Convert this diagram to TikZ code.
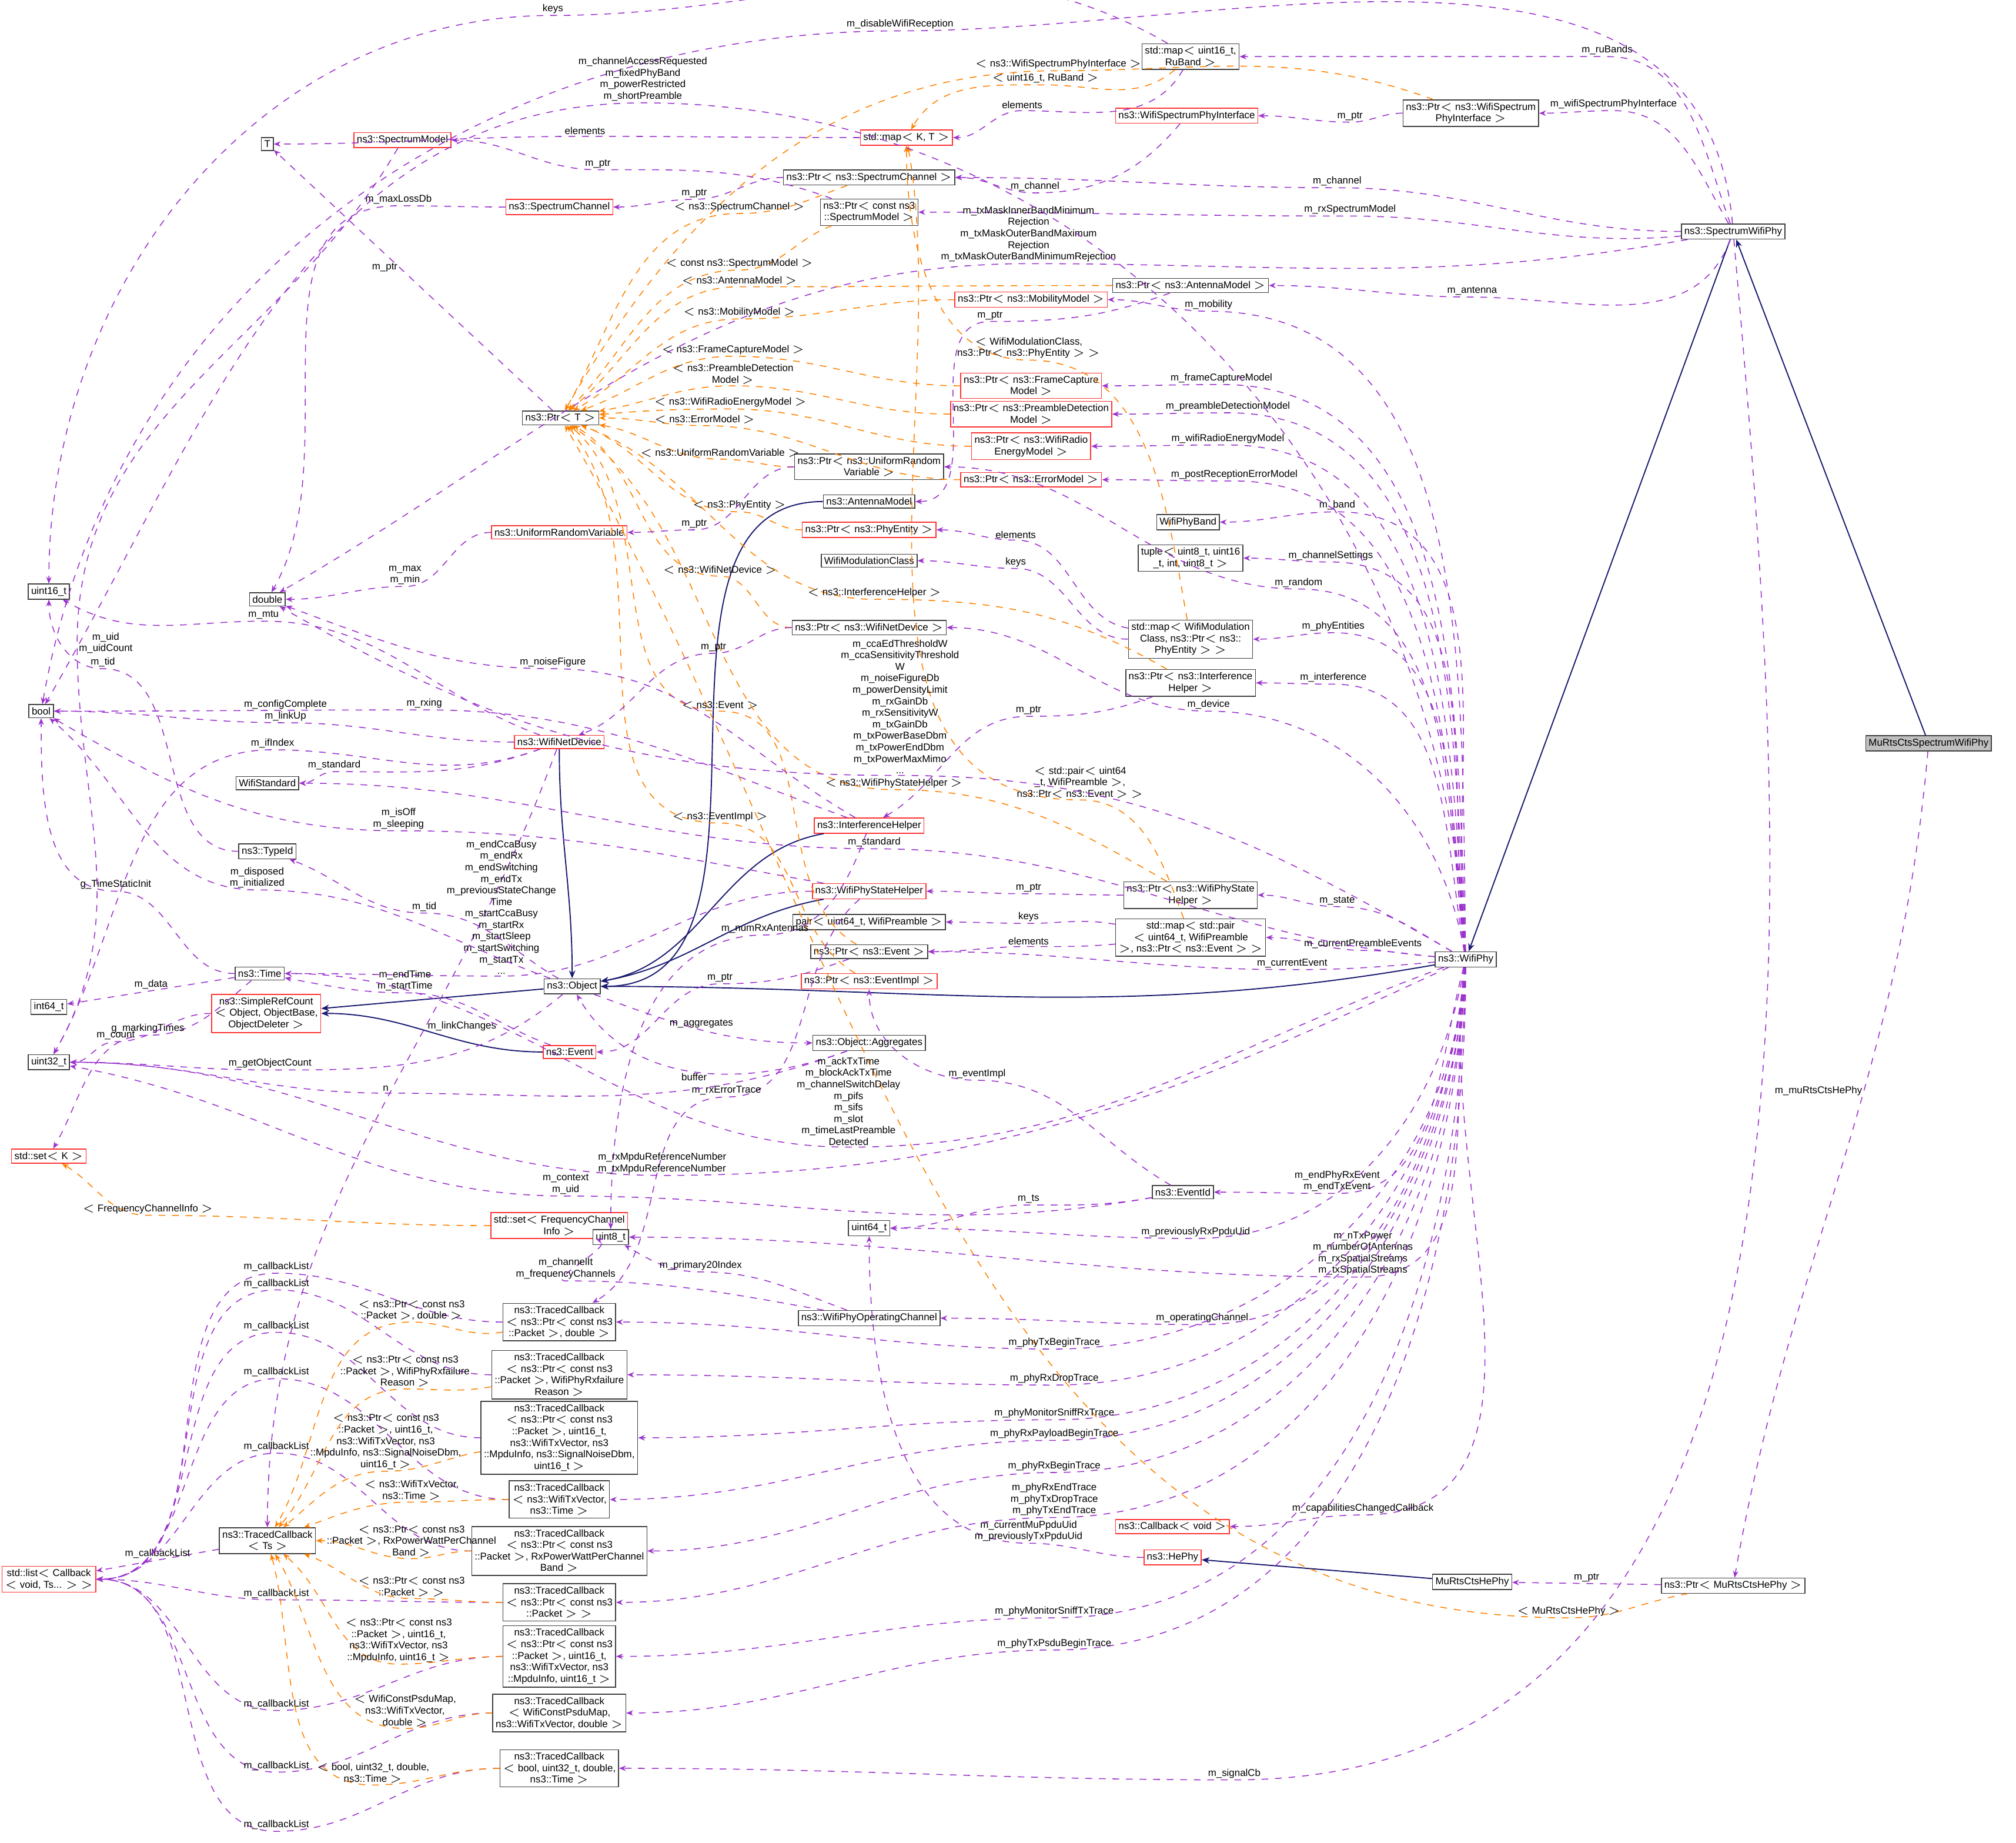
\documentclass[tikz,border=0pt]{standalone}
\usepackage{fontspec}
\setmainfont{Liberation Sans}
\usetikzlibrary{arrows.meta,positioning,calc}

% edge through a label point: style, from, out, x, y, label, in, to
\newcommand{\edgevia}[8]{\draw[#1] (#2) to[out=#3,in=0] (#4,#5) node[lbl,above]{#6} to[out=180,in=#7] (#8);}

\begin{document}
\begin{tikzpicture}[x=0.02cm,y=-0.02cm,
  font=\fontsize{4.4}{5.1}\selectfont,
  box/.style={draw=black!75,fill=white,align=center,inner sep=1.3pt,line width=0.4pt},
  redbox/.style={box,draw=red!80},
  greybox/.style={box,fill=black!25},
  mem/.style={draw={rgb,255:red,155;green,50;blue,205},dashed,line width=0.4pt,-{Stealth[length=3pt,width=2.4pt]}},
  tpl/.style={draw=orange,dashed,line width=0.4pt,-{Stealth[length=3pt,width=2.4pt]}},
  inh/.style={draw={rgb,255:red,25;green,25;blue,112},line width=0.5pt,-{Stealth[length=3.5pt,width=2.8pt]}},
  lbl/.style={align=center,inner sep=0.6pt}]
\useasboundingbox (0,0) rectangle (1568,1433);

% left column
\node[box] (u16) at (38,460) {uint16\_t};
\node[box] (dbl) at (208,466) {double};
\node[box] (bool) at (32,553) {bool};
\node[box] (T) at (208,112) {T};
\node[box] (i64) at (38,783) {int64\_t};
\node[box] (u32) at (38,826) {uint32\_t};
\node[redbox] (setK) at (38,899) {std::set$<$ K $>$};
\node[redbox] (list) at (38,1228) {std::list$<$ Callback\\$<$ void, Ts... $>$ $>$};
\node[box] (wstd) at (208,609) {WifiStandard};
\node[box] (tid) at (208,662) {ns3::TypeId};
\node[box] (time) at (202,757) {ns3::Time};
\node[redbox] (src) at (207,788) {ns3::SimpleRefCount\\$<$ Object, ObjectBase,\\ObjectDeleter $>$};
\node[box] (tcts) at (208,1198) {ns3::TracedCallback\\$<$ Ts $>$};

% second column
\node[redbox] (smod) at (313,109) {ns3::SpectrumModel};
\node[redbox] (schan) at (435,161) {ns3::SpectrumChannel};
\node[box] (ptrT) at (436,325) {ns3::Ptr$<$ T $>$};
\node[redbox] (urv) at (435,414) {ns3::UniformRandomVariable};
\node[redbox] (wnd) at (435,577) {ns3::WifiNetDevice};
\node[box] (obj) at (445,767) {ns3::Object};
\node[redbox] (evt) at (443,818) {ns3::Event};
\node[redbox] (setfc) at (435,953) {std::set$<$ FrequencyChannel\\Info $>$};
\node[box] (u8) at (475,962) {uint8\_t};
\node[box] (tc1) at (435,1028) {ns3::TracedCallback\\$<$ ns3::Ptr$<$ const ns3\\::Packet $>$, double $>$};
\node[box] (tc2) at (435,1069) {ns3::TracedCallback\\$<$ ns3::Ptr$<$ const ns3\\::Packet $>$, WifiPhyRxfailure\\Reason $>$};
\node[box] (tc3) at (435,1118) {ns3::TracedCallback\\$<$ ns3::Ptr$<$ const ns3\\::Packet $>$, uint16\_t,\\ns3::WifiTxVector, ns3\\::MpduInfo, ns3::SignalNoiseDbm,\\uint16\_t $>$};
\node[box] (tc4) at (435,1166) {ns3::TracedCallback\\$<$ ns3::WifiTxVector,\\ns3::Time $>$};
\node[box] (tc5) at (435,1206) {ns3::TracedCallback\\$<$ ns3::Ptr$<$ const ns3\\::Packet $>$, RxPowerWattPerChannel\\Band $>$};
\node[box] (tc6) at (435,1246) {ns3::TracedCallback\\$<$ ns3::Ptr$<$ const ns3\\::Packet $>$ $>$};
\node[box] (tc7) at (435,1288) {ns3::TracedCallback\\$<$ ns3::Ptr$<$ const ns3\\::Packet $>$, uint16\_t,\\ns3::WifiTxVector, ns3\\::MpduInfo, uint16\_t $>$};
\node[box] (tc8) at (435,1332) {ns3::TracedCallback\\$<$ WifiConstPsduMap,\\ns3::WifiTxVector, double $>$};
\node[box] (tc9) at (435,1375) {ns3::TracedCallback\\$<$ bool, uint32\_t, double,\\ns3::Time $>$};

% third column
\node[redbox] (mapKT) at (705,107) {std::map$<$ K, T $>$};
\node[box] (pschan) at (676,138) {ns3::Ptr$<$ ns3::SpectrumChannel $>$};
\node[box] (psmod) at (676,165) {ns3::Ptr$<$ const ns3\\::SpectrumModel $>$};
\node[box] (purv) at (676,363) {ns3::Ptr$<$ ns3::UniformRandom\\Variable $>$};
\node[box] (ant) at (676,390) {ns3::AntennaModel};
\node[redbox] (pphy) at (676,412) {ns3::Ptr$<$ ns3::PhyEntity $>$};
\node[box] (wmc) at (676,436) {WifiModulationClass};
\node[box] (pwnd) at (676,488) {ns3::Ptr$<$ ns3::WifiNetDevice $>$};
\node[redbox] (ih) at (676,642) {ns3::InterferenceHelper};
\node[redbox] (wpsh) at (676,693) {ns3::WifiPhyStateHelper};
\node[box] (pair) at (676,717) {pair$<$ uint64\_t, WifiPreamble $>$};
\node[box] (pevt) at (676,740) {ns3::Ptr$<$ ns3::Event $>$};
\node[redbox] (pevi) at (676,763) {ns3::Ptr$<$ ns3::EventImpl $>$};
\node[box] (aggr) at (676,811) {ns3::Object::Aggregates};
\node[box] (u64) at (676,955) {uint64\_t};
\node[box] (woc) at (676,1025) {ns3::WifiPhyOperatingChannel};

% fourth column
\node[box] (mapru) at (926,44) {std::map$<$ uint16\_t,\\RuBand $>$};
\node[redbox] (wspi) at (923,90) {ns3::WifiSpectrumPhyInterface};
\node[box] (pant) at (926,222) {ns3::Ptr$<$ ns3::AntennaModel $>$};
\node[redbox] (pmob) at (802,233) {ns3::Ptr$<$ ns3::MobilityModel $>$};
\node[redbox] (pfc) at (802,300) {ns3::Ptr$<$ ns3::FrameCapture\\Model $>$};
\node[redbox] (ppd) at (802,322) {ns3::Ptr$<$ ns3::PreambleDetection\\Model $>$};
\node[redbox] (pre) at (802,347) {ns3::Ptr$<$ ns3::WifiRadio\\EnergyModel $>$};
\node[redbox] (pem) at (802,373) {ns3::Ptr$<$ ns3::ErrorModel $>$};
\node[box] (band) at (924,406) {WifiPhyBand};
\node[box] (tup) at (926,434) {tuple$<$ uint8\_t, uint16\\\_t, int, uint8\_t $>$};
\node[box] (mapwmc) at (926,497) {std::map$<$ WifiModulation\\Class, ns3::Ptr$<$ ns3::\\PhyEntity $>$ $>$};
\node[box] (pih) at (926,531) {ns3::Ptr$<$ ns3::Interference\\Helper $>$};
\node[box] (pwpsh) at (926,696) {ns3::Ptr$<$ ns3::WifiPhyState\\Helper $>$};
\node[box] (mappe) at (926,729) {std::map$<$ std::pair\\$<$ uint64\_t, WifiPreamble\\$>$, ns3::Ptr$<$ ns3::Event $>$ $>$};
\node[box] (eid) at (920,927) {ns3::EventId};
\node[redbox] (cbv) at (912,1187) {ns3::Callback$<$ void $>$};
\node[redbox] (hephy) at (912,1211) {ns3::HePhy};

% right
\node[box] (pwspi) at (1144,88) {ns3::Ptr$<$ ns3::WifiSpectrum\\PhyInterface $>$};
\node[box] (swp) at (1348,180) {ns3::SpectrumWifiPhy};
\node[box] (wp) at (1140,746) {ns3::WifiPhy};
\node[box] (murts) at (1145,1230) {MuRtsCtsHePhy};
\node[box] (pmurts) at (1348,1233) {ns3::Ptr$<$ MuRtsCtsHePhy $>$};
\node[greybox] (mrcs) at (1500,578) {MuRtsCtsSpectrumWifiPhy};

% inheritance
\draw[inh] (mrcs) -- (swp);
\draw[inh] (swp) -- (wp);
\draw[inh] (wp) to[out=190,in=0] (obj);
\draw[inh] (ant) to[out=180,in=0] (obj);
\draw[inh] (ih) to[out=190,in=10] (obj);
\draw[inh] (wpsh) to[out=190,in=10] (obj);
\draw[inh] (obj) -- (src);
\draw[inh] (evt) to[out=180,in=0] (src);
\draw[inh] (wnd) to[out=270,in=90] (obj);
\draw[inh] (murts) -- (hephy);

% SpectrumWifiPhy members
\edgevia{mem}{swp}{110}{1250}{44}{m\_ruBands}{0}{mapru}
\edgevia{mem}{swp}{120}{1255}{86}{m\_wifiSpectrumPhyInterface}{0}{pwspi}
\edgevia{mem}{swp}{180}{1040}{146}{m\_channel}{0}{pschan}
\edgevia{mem}{swp}{185}{1050}{168}{m\_rxSpectrumModel}{0}{psmod}
\edgevia{mem}{swp}{250}{1145}{231}{m\_antenna}{0}{pant}
\edgevia{mem}{swp}{190}{800}{205}{m\_txMaskInnerBandMinimum\\Rejection\\m\_txMaskOuterBandMaximum\\Rejection\\m\_txMaskOuterBandMinimumRejection}{30}{dbl}
\edgevia{mem}{swp}{95}{700}{24}{m\_disableWifiReception}{80}{bool}
\edgevia{mem}{swp}{275}{960}{1384}{m\_signalCb}{0}{tc9}
\draw[mem] (mrcs) to[out=265,in=80] node[lbl,pos=.4,left]{m\_muRtsCtsHePhy} (pmurts);
\draw[mem] (pmurts) -- node[lbl,above] {m\_ptr} (murts);
\edgevia{tpl}{pmurts}{190}{1220}{1258}{$<$ MuRtsCtsHePhy $>$}{-60}{ptrT}
\edgevia{mem}{hephy}{180}{800}{1200}{m\_currentMuPpduUid\\m\_previouslyTxPpduUid}{270}{u64}

% top part
\edgevia{mem}{mapru}{150}{430}{12}{keys}{90}{u16}
\edgevia{mem}{mapru}{240}{795}{86}{elements}{0}{mapKT}
\edgevia{tpl}{mapru}{220}{813}{66}{$<$ uint16\_t, RuBand $>$}{60}{mapKT}
\edgevia{mem}{pwspi}{180}{1050}{95}{m\_ptr}{0}{wspi}
\edgevia{tpl}{pwspi}{160}{823}{55}{$<$ ns3::WifiSpectrumPhyInterface $>$}{60}{ptrT}
\edgevia{mem}{wspi}{230}{805}{150}{m\_channel}{0}{pschan}
\edgevia{mem}{mapKT}{180}{455}{106}{elements}{0}{T}
\edgevia{mem}{pschan}{180}{540}{155}{m\_ptr}{0}{schan}
\edgevia{mem}{psmod}{160}{465}{132}{m\_ptr}{0}{smod}
\draw[mem] (ptrT) -- node[lbl,pos=.55,left] {m\_ptr} (T);
\edgevia{mem}{schan}{180}{310}{160}{m\_maxLossDb}{60}{dbl}
\draw[mem] (smod) to[out=240,in=90] (60,500) node[lbl,right]{m\_uid\\m\_uidCount} to[out=270,in=60] (u32);
\edgevia{mem}{pant}{200}{770}{250}{m\_ptr}{0}{ant}
\edgevia{tpl}{pschan}{200}{575}{166}{$<$ ns3::SpectrumChannel $>$}{60}{ptrT}
\edgevia{tpl}{psmod}{200}{575}{210}{$<$ const ns3::SpectrumModel $>$}{45}{ptrT}
\edgevia{tpl}{pant}{180}{575}{223}{$<$ ns3::AntennaModel $>$}{40}{ptrT}
\edgevia{tpl}{pmob}{180}{575}{248}{$<$ ns3::MobilityModel $>$}{30}{ptrT}
\edgevia{tpl}{pfc}{180}{570}{277}{$<$ ns3::FrameCaptureModel $>$}{20}{ptrT}
\edgevia{tpl}{ppd}{180}{570}{300}{$<$ ns3::PreambleDetection\\Model $>$}{10}{ptrT}
\edgevia{tpl}{pre}{180}{568}{318}{$<$ ns3::WifiRadioEnergyModel $>$}{5}{ptrT}
\edgevia{tpl}{pem}{180}{548}{331}{$<$ ns3::ErrorModel $>$}{0}{ptrT}
\edgevia{tpl}{purv}{180}{560}{357}{$<$ ns3::UniformRandomVariable $>$}{-10}{ptrT}
\edgevia{tpl}{pphy}{180}{575}{398}{$<$ ns3::PhyEntity $>$}{-20}{ptrT}
\edgevia{tpl}{pwnd}{180}{560}{448}{$<$ ns3::WifiNetDevice $>$}{-30}{ptrT}
\edgevia{tpl}{pih}{150}{680}{466}{$<$ ns3::InterferenceHelper $>$}{-20}{ptrT}
\edgevia{tpl}{pevt}{150}{560}{553}{$<$ ns3::Event $>$}{-40}{ptrT}
\edgevia{tpl}{pwpsh}{150}{695}{614}{$<$ ns3::WifiPhyStateHelper $>$}{-35}{ptrT}
\edgevia{tpl}{pevi}{150}{560}{640}{$<$ ns3::EventImpl $>$}{-50}{ptrT}
\edgevia{tpl}{mapwmc}{100}{800}{280}{$<$ WifiModulationClass,\\ns3::Ptr$<$ ns3::PhyEntity $>$ $>$}{270}{mapKT}
\edgevia{tpl}{mappe}{110}{840}{622}{$<$ std::pair$<$ uint64\\\_t, WifiPreamble $>$,\\ns3::Ptr$<$ ns3::Event $>$ $>$}{280}{mapKT}
\edgevia{mem}{purv}{180}{540}{412}{m\_ptr}{0}{urv}
\edgevia{mem}{urv}{180}{315}{456}{m\_max\\m\_min}{0}{dbl}
\edgevia{mem}{mapwmc}{170}{790}{420}{elements}{0}{pphy}
\edgevia{mem}{mapwmc}{180}{790}{442}{keys}{0}{wmc}
\edgevia{mem}{pwnd}{180}{555}{508}{m\_ptr}{20}{wnd}
\edgevia{mem}{pih}{200}{800}{557}{m\_ptr}{30}{ih}

% middle part
\edgevia{mem}{ih}{150}{430}{520}{m\_noiseFigure}{-20}{dbl}
\edgevia{mem}{ih}{160}{330}{552}{m\_rxing}{0}{bool}
\edgevia{mem}{ih}{250}{595}{727}{m\_numRxAntennas}{90}{u8}
\edgevia{mem}{wnd}{160}{205}{483}{m\_mtu}{-30}{u16}
\edgevia{mem}{wnd}{180}{222}{562}{m\_configComplete\\m\_linkUp}{0}{bool}
\edgevia{mem}{wnd}{200}{212}{583}{m\_ifIndex}{60}{u32}
\edgevia{mem}{wnd}{200}{260}{600}{m\_standard}{0}{wstd}
\draw[mem] (wnd) to[out=250,in=90] node[lbl,pos=.35,right] {m\_linkChanges} (tcts);
\edgevia{mem}{wpsh}{170}{310}{646}{m\_isOff\\m\_sleeping}{-30}{bool}
\edgevia{mem}{wpsh}{180}{390}{759}{m\_endCcaBusy\\m\_endRx\\m\_endSwitching\\m\_endTx\\m\_previousStateChange\\Time\\m\_startCcaBusy\\m\_startRx\\m\_startSleep\\m\_startSwitching\\m\_startTx\\...}{0}{time}
\edgevia{mem}{wpsh}{220}{565}{853}{m\_rxErrorTrace}{30}{tc1}
\edgevia{mem}{pwpsh}{180}{800}{695}{m\_ptr}{0}{wpsh}
\edgevia{mem}{mappe}{170}{800}{718}{keys}{0}{pair}
\edgevia{mem}{mappe}{185}{800}{736}{elements}{0}{pevt}
\edgevia{mem}{pevt}{200}{560}{765}{m\_ptr}{0}{evt}
\edgevia{mem}{evt}{160}{315}{772}{m\_endTime\\m\_startTime}{-10}{time}
\edgevia{mem}{obj}{160}{200}{692}{m\_disposed\\m\_initialized}{-40}{bool}
\edgevia{mem}{obj}{150}{330}{710}{m\_tid}{-20}{tid}
\draw[mem] (obj) to[out=-20,in=180] node[lbl,pos=.5,above] {m\_aggregates} (aggr);
\edgevia{mem}{obj}{220}{210}{832}{m\_getObjectCount}{0}{u32}
\edgevia{mem}{aggr}{200}{300}{850}{n}{0}{u32}
\draw[mem] (aggr) to[out=200,in=300] node[lbl,pos=.5,below] {buffer} (obj);
\draw[mem] (time) -- node[lbl,above] {m\_data} (i64);
\edgevia{mem}{time}{180}{90}{693}{g\_TimeStaticInit}{270}{bool}
\edgevia{mem}{time}{220}{115}{805}{g\_markingTimes}{60}{setK}
\edgevia{mem}{tid}{180}{80}{520}{m\_tid}{270}{u16}
\edgevia{mem}{src}{180}{90}{810}{m\_count}{0}{u32}
\edgevia{tpl}{setfc}{180}{115}{945}{$<$ FrequencyChannelInfo $>$}{-30}{setK}
\edgevia{mem}{eid}{190}{440}{930}{m\_context\\m\_uid}{-10}{u32}
\edgevia{mem}{eid}{150}{760}{840}{m\_eventImpl}{270}{pevi}
\edgevia{mem}{eid}{190}{800}{937}{m\_ts}{0}{u64}
\edgevia{mem}{woc}{160}{545}{989}{m\_primary20Index}{-30}{u8}
\edgevia{mem}{woc}{170}{440}{996}{m\_channelIt\\m\_frequencyChannels}{-20}{setfc}

% traced callbacks
\draw[mem] (tcts) -- node[lbl,above] {m\_callbackList} (list);
\foreach \tc/\ly in {tc1/990,tc2/1003,tc3/1036,tc4/1072,tc5/1130,tc6/1244,tc7/1330,tc8/1378,tc9/1424}
  {\edgevia{mem}{\tc}{180}{215}{\ly}{m\_callbackList}{0}{list}}
\edgevia{tpl}{tc1}{190}{320}{1028}{$<$ ns3::Ptr$<$ const ns3\\::Packet $>$, double $>$}{60}{tcts}
\edgevia{tpl}{tc2}{190}{315}{1080}{$<$ ns3::Ptr$<$ const ns3\\::Packet $>$, WifiPhyRxfailure\\Reason $>$}{50}{tcts}
\edgevia{tpl}{tc3}{190}{300}{1144}{$<$ ns3::Ptr$<$ const ns3\\::Packet $>$, uint16\_t,\\ns3::WifiTxVector, ns3\\::MpduInfo, ns3::SignalNoiseDbm,\\uint16\_t $>$}{40}{tcts}
\edgevia{tpl}{tc4}{180}{320}{1168}{$<$ ns3::WifiTxVector,\\ns3::Time $>$}{20}{tcts}
\edgevia{tpl}{tc5}{180}{320}{1212}{$<$ ns3::Ptr$<$ const ns3\\::Packet $>$, RxPowerWattPerChannel\\Band $>$}{0}{tcts}
\edgevia{tpl}{tc6}{180}{320}{1243}{$<$ ns3::Ptr$<$ const ns3\\::Packet $>$ $>$}{-20}{tcts}
\edgevia{tpl}{tc7}{180}{310}{1294}{$<$ ns3::Ptr$<$ const ns3\\::Packet $>$, uint16\_t,\\ns3::WifiTxVector, ns3\\::MpduInfo, uint16\_t $>$}{-40}{tcts}
\edgevia{tpl}{tc8}{180}{315}{1344}{$<$ WifiConstPsduMap,\\ns3::WifiTxVector,\\double $>$}{-60}{tcts}
\edgevia{tpl}{tc9}{180}{290}{1388}{$<$ bool, uint32\_t, double,\\ns3::Time $>$}{-75}{tcts}

% WifiPhy members
\edgevia{mem}{wp}{150}{1040}{705}{m\_state}{0}{pwpsh}
\edgevia{mem}{wp}{175}{1060}{739}{m\_currentPreambleEvents}{0}{mappe}
\edgevia{mem}{wp}{185}{1005}{754}{m\_currentEvent}{0}{pevt}
\edgevia{mem}{wp}{100}{1037}{532}{m\_interference}{0}{pih}
\edgevia{mem}{wp}{98}{1037}{492}{m\_phyEntities}{0}{mapwmc}
\edgevia{mem}{wp}{97}{1035}{437}{m\_channelSettings}{0}{tup}
\edgevia{mem}{wp}{96}{1040}{398}{m\_band}{0}{band}
\edgevia{mem}{wp}{95}{960}{374}{m\_postReceptionErrorModel}{0}{pem}
\edgevia{mem}{wp}{94}{955}{346}{m\_wifiRadioEnergyModel}{0}{pre}
\edgevia{mem}{wp}{93}{955}{321}{m\_preambleDetectionModel}{0}{ppd}
\edgevia{mem}{wp}{92}{950}{299}{m\_frameCaptureModel}{0}{pfc}
\edgevia{mem}{wp}{91}{940}{242}{m\_mobility}{0}{pmob}
\edgevia{mem}{wp}{97}{1010}{458}{m\_random}{0}{purv}
\edgevia{mem}{wp}{100}{940}{553}{m\_device}{0}{pwnd}
\edgevia{mem}{wp}{150}{700}{603}{m\_ccaEdThresholdW\\m\_ccaSensitivityThreshold\\W\\m\_noiseFigureDb\\m\_powerDensityLimit\\m\_rxGainDb\\m\_rxSensitivityW\\m\_txGainDb\\m\_txPowerBaseDbm\\m\_txPowerEndDbm\\m\_txPowerMaxMimo\\...}{-30}{dbl}
\edgevia{mem}{wp}{175}{680}{660}{m\_standard}{0}{wstd}
\edgevia{mem}{wp}{93}{500}{80}{m\_channelAccessRequested\\m\_fixedPhyBand\\m\_powerRestricted\\m\_shortPreamble}{60}{bool}
\edgevia{mem}{wp}{200}{660}{892}{m\_ackTxTime\\m\_blockAckTxTime\\m\_channelSwitchDelay\\m\_pifs\\m\_sifs\\m\_slot\\m\_timeLastPreamble\\Detected}{0}{time}
\edgevia{mem}{wp}{205}{515}{914}{m\_rxMpduReferenceNumber\\m\_txMpduReferenceNumber}{0}{u32}
\edgevia{mem}{wp}{255}{1040}{928}{m\_endPhyRxEvent\\m\_endTxEvent}{0}{eid}
\edgevia{mem}{wp}{260}{930}{963}{m\_previouslyRxPpduUid}{0}{u64}
\edgevia{mem}{wp}{262}{1060}{993}{m\_nTxPower\\m\_numberOfAntennas\\m\_rxSpatialStreams\\m\_txSpatialStreams}{0}{u8}
\edgevia{mem}{wp}{264}{935}{1030}{m\_operatingChannel}{0}{woc}
\edgevia{mem}{wp}{266}{820}{1049}{m\_phyTxBeginTrace}{0}{tc1}
\edgevia{mem}{wp}{266}{820}{1077}{m\_phyRxDropTrace}{0}{tc2}
\edgevia{mem}{wp}{267}{820}{1104}{m\_phyMonitorSniffRxTrace}{0}{tc3}
\edgevia{mem}{wp}{267}{820}{1120}{m\_phyRxPayloadBeginTrace}{0}{tc4}
\edgevia{mem}{wp}{268}{820}{1145}{m\_phyRxBeginTrace}{0}{tc5}
\edgevia{mem}{wp}{268}{820}{1180}{m\_phyRxEndTrace\\m\_phyTxDropTrace\\m\_phyTxEndTrace}{0}{tc6}
\edgevia{mem}{wp}{262}{1060}{1178}{m\_capabilitiesChangedCallback}{0}{cbv}
\edgevia{mem}{wp}{269}{820}{1258}{m\_phyMonitorSniffTxTrace}{0}{tc7}
\edgevia{mem}{wp}{270}{820}{1283}{m\_phyTxPsduBeginTrace}{0}{tc8}
\end{tikzpicture}
\end{document}
